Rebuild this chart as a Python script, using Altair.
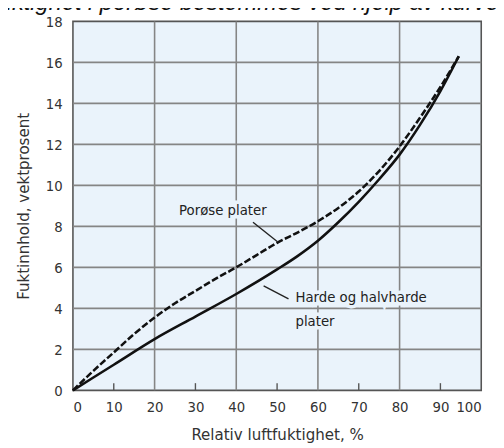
import altair as alt
import pandas as pd

# Relative humidity (%) and moisture content (weight %)
rh_hard = [0, 10, 20, 30, 40, 50, 55, 60, 65, 70, 75, 80, 85, 90, 94.5]
mc_hard = [0, 1.25, 2.5, 3.6, 4.7, 5.9, 6.55, 7.3, 8.2, 9.2, 10.3, 11.5, 12.95, 14.6, 16.3]
rh_por = [0, 5, 10, 15, 20, 25, 30, 35, 40, 45, 50, 55, 60, 65, 70, 75, 80, 85, 90, 94.5]
mc_por = [0, 0.95, 1.85, 2.75, 3.55, 4.25, 4.85, 5.45, 6.0, 6.6, 7.2, 7.7, 8.25, 8.9, 9.7,
          10.7, 11.9, 13.3, 14.8, 16.3]

x_ticks = [0, 10, 20, 30, 40, 50, 60, 70, 80, 90, 100]
y_ticks = [0, 2, 4, 6, 8, 10, 12, 14, 16, 18]
grid_x = [20, 40, 60, 80]
grid_y = [2, 4, 6, 8, 10, 12, 14, 16]
minor_x = [10, 30, 50, 70, 90]

FONT = "DejaVu Sans Condensed"
BG = "#EAF3FB"

hard = pd.DataFrame({"rh": rh_hard, "mc": mc_hard})
por = pd.DataFrame({"rh": rh_por, "mc": mc_por})

xs = alt.Scale(domain=[0, 100], nice=False)
ys = alt.Scale(domain=[0, 18], nice=False)

x_enc = alt.X("rh:Q", scale=xs, title="Relativ luftfuktighet, %",
              axis=alt.Axis(values=x_ticks, grid=False, ticks=False, domain=False,
                            labelFont=FONT, labelFontSize=15, labelColor="#333",
                            labelPadding=10, titleFont=FONT, titleFontSize=17,
                            titleFontWeight="normal", titleColor="#333", titlePadding=12))
y_enc = alt.Y("mc:Q", scale=ys, title="Fuktinnhold, vektprosent",
              axis=alt.Axis(values=y_ticks, grid=False, ticks=False, domain=False,
                            labelFont=FONT, labelFontSize=15, labelColor="#333",
                            labelPadding=11, titleFont=FONT, titleFontSize=17,
                            titleFontWeight="normal", titleColor="#333", titlePadding=13))

gx = alt.Chart(pd.DataFrame({"g": grid_x})).mark_rule(color="#858585", strokeWidth=1.6).encode(
    x=alt.X("g:Q", scale=xs))
gy = alt.Chart(pd.DataFrame({"g": grid_y})).mark_rule(color="#858585", strokeWidth=1.6).encode(
    y=alt.Y("g:Q", scale=ys))
minor = alt.Chart(pd.DataFrame({"m": minor_x, "y0": [0] * 5, "y1": [0.35] * 5})).mark_rule(
    color="#555", strokeWidth=1.4).encode(
    x=alt.X("m:Q", scale=xs), y=alt.Y("y0:Q", scale=ys), y2="y1:Q")

base_h = alt.Chart(hard).mark_line(color="#111", strokeWidth=2.6, interpolate="monotone").encode(
    x=x_enc, y=y_enc)
base_p = alt.Chart(por).mark_line(color="#111", strokeWidth=2.6, strokeDash=[7, 2.5],
                                  interpolate="monotone").encode(
    x=alt.X("rh:Q", scale=xs), y=alt.Y("mc:Q", scale=ys))

labels = pd.DataFrame({
    "x": [26, 54.5, 54.5],
    "y": [8.8, 4.56, 3.4],
    "t": ["Porøse plater", "Harde og halvharde", "plater"],
})
halo = alt.Chart(labels).mark_text(align="left", baseline="middle", font=FONT, fontSize=15,
                                   color=BG, stroke=BG, strokeWidth=7).encode(
    x=alt.X("x:Q", scale=xs), y=alt.Y("y:Q", scale=ys), text="t:N")
txt = alt.Chart(labels).mark_text(align="left", baseline="middle", font=FONT, fontSize=15,
                                  color="#222").encode(
    x=alt.X("x:Q", scale=xs), y=alt.Y("y:Q", scale=ys), text="t:N")

leaders = pd.DataFrame({"x": [44.1, 46.7], "y": [8.2, 5.1], "x2": [50.1, 52.8], "y2": [7.25, 4.46]})
lead = alt.Chart(leaders).mark_rule(color="#222", strokeWidth=1.4).encode(
    x=alt.X("x:Q", scale=xs), y=alt.Y("y:Q", scale=ys), x2="x2:Q", y2="y2:Q")

top = alt.Chart(pd.DataFrame({"t": ["fuktighet i porøse bestemmes ved hjelp av kurvene"]})).mark_text(
    align="left", baseline="alphabetic", font="Liberation Sans", fontStyle="italic",
    fontSize=24, color="#111").encode(
    x=alt.value(-82), y=alt.value(-11.5), text="t:N")

chart = alt.layer(gx, gy, minor, halo, base_h, base_p, lead, txt, top).properties(
    width=415, height=375,
    background="white",
    autosize=alt.AutoSizeParams(type="none"),
    padding={"left": 66, "top": 10, "right": 15, "bottom": 55},
).configure_view(fill=BG, stroke="#555", strokeWidth=1.6)

chart.save("out.html", embed_options={"renderer": "svg", "actions": False})
